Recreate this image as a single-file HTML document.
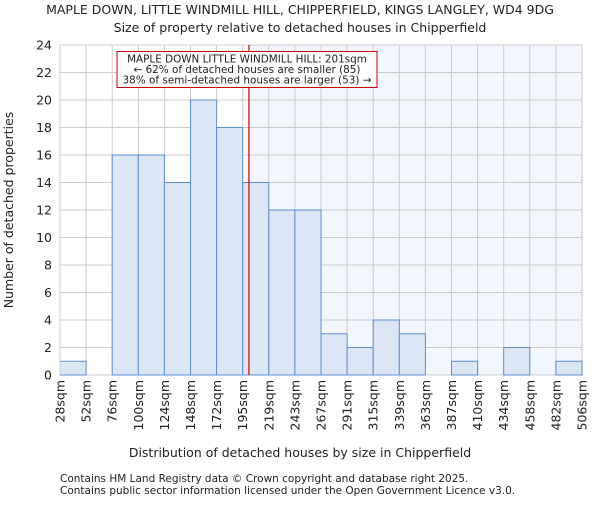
<!DOCTYPE html>
<html><head><meta charset="utf-8"><style>
body{margin:0;background:#fff}
svg text{font-family:"DejaVu Sans","Liberation Sans",sans-serif;fill:#222}
</style></head><body>
<svg id="c" width="600" height="500" xmlns="http://www.w3.org/2000/svg">
<text x="300" y="14" text-anchor="middle" font-size="12.5">MAPLE DOWN, LITTLE WINDMILL HILL, CHIPPERFIELD, KINGS LANGLEY, WD4 9DG</text>
<text x="300" y="32" text-anchor="middle" font-size="12.5">Size of property relative to detached houses in Chipperfield</text>
<g id="plot"></g>
<text x="300" y="457" text-anchor="middle" font-size="12.5">Distribution of detached houses by size in Chipperfield</text>
<text transform="translate(13,210) rotate(-90)" text-anchor="middle" font-size="12.5">Number of detached properties</text>
<text x="60" y="482" font-size="10.5">Contains HM Land Registry data © Crown copyright and database right 2025.</text>
<text x="60" y="494" font-size="10.5">Contains public sector information licensed under the Open Government Licence v3.0.</text>
</svg>
<script>
const xLabels=["28sqm","52sqm","76sqm","100sqm","124sqm","148sqm","172sqm","195sqm","219sqm","243sqm","267sqm","291sqm","315sqm","339sqm","363sqm","387sqm","410sqm","434sqm","458sqm","482sqm","506sqm"];
const counts=[1,0,16,16,14,20,18,14,12,12,3,2,4,3,0,1,0,2,0,1];
const yTicks=[0,2,4,6,8,10,12,14,16,18,20,22,24];
const xMin=28, xMax=506, subject=201;
const L=60,R=582,T=45,B=375,yMax=24;
const NS="http://www.w3.org/2000/svg";
const g=document.getElementById('plot');
const bw=(R-L)/counts.length;
const xs=v=>L+(v-xMin)/(xMax-xMin)*(R-L);
const ys=v=>B-v/yMax*(B-T);
function mk(t,a){const e=document.createElementNS(NS,t);for(const k in a)e.setAttribute(k,a[k]);g.appendChild(e);return e;}
const sx=xs(subject);
let sh=mk('rect',{x:sx,y:T,width:R-sx,height:B-T,fill:'#f3f6fc'});


for(let i=0;i<=counts.length;i++){const x=L+i*bw;let l=mk('line',{x1:x,x2:x,y1:T,y2:B,stroke:'#cccccc','stroke-width':1});

}
yTicks.forEach(v=>{const y=ys(v);let l=mk('line',{x1:L,x2:R,y1:y,y2:y,stroke:'#cccccc','stroke-width':1});


let t=mk('text',{x:L-8,y:y+4.5,'text-anchor':'end','font-size':'12.5'});t.textContent=v;

});
counts.forEach((c,i)=>{if(c<=0)return;const x=L+i*bw;let r=mk('rect',{x:x,y:ys(c),width:bw,height:B-ys(c),fill:'#dce6f5',stroke:'#5a8fd6','stroke-width':1});

});
xLabels.forEach((s,i)=>{const x=L+i*bw;let t=mk('text',{transform:`translate(${x+4.5},380) rotate(-90)`,'text-anchor':'end','font-size':'12.5'});t.textContent=s;

});
let ax=mk('line',{x1:L,x2:L,y1:T,y2:B,stroke:'#cccccc'});
let ml=mk('line',{x1:sx,x2:sx,y1:T,y2:B,stroke:'#cc0000','stroke-width':1.2});


let bx=mk('rect',{x:117,y:51.5,width:260,height:36,fill:'#fff',stroke:'#cc0000','stroke-width':1});


["MAPLE DOWN LITTLE WINDMILL HILL: 201sqm","← 62% of detached houses are smaller (85)","38% of semi-detached houses are larger (53) →"].forEach((s,i)=>{let t=mk('text',{x:247,y:62.5+i*10.5,'text-anchor':'middle','font-size':'10.4',textLength:i==2?249:null});t.textContent=s;
if(i!==2)t.removeAttribute('textLength');

});
</script>
</body></html>
